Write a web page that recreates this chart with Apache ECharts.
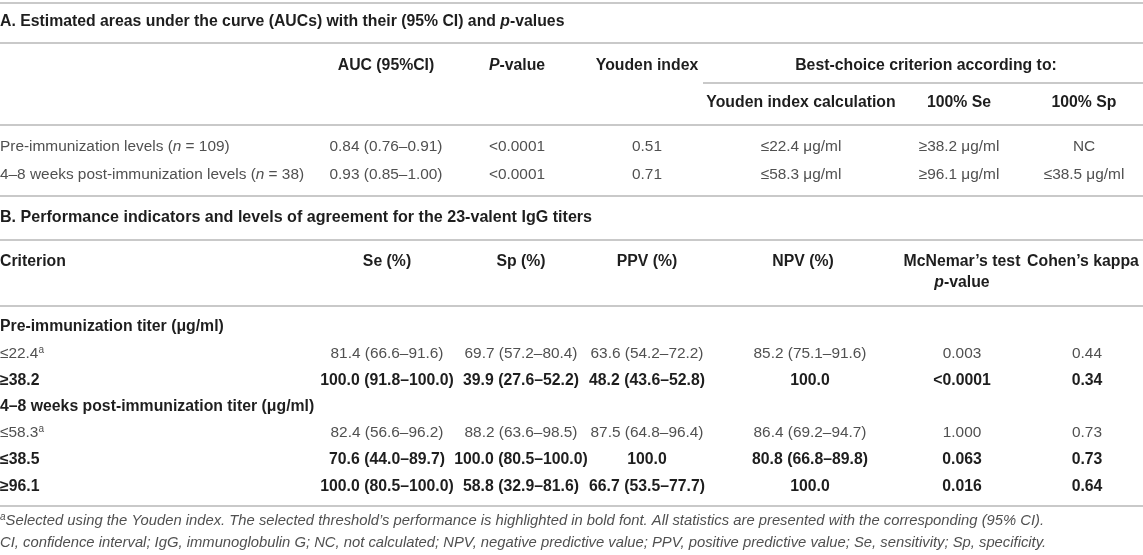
<!DOCTYPE html>
<html lang="en">
<head>
    <meta charset="UTF-8">
    <title>AUC table</title>
    <script src="https://cdn.jsdelivr.net/npm/echarts@6/dist/echarts.min.js"></script>
    <style>
        html, body { margin: 0; padding: 0; background: #fff; }
        .box { width: 1143px; height: 555px; }
    </style>
</head>
<body>
    <div class="box"></div>
</body>
<script>
 // A. AUC table
 let aTitle = 'A. Estimated areas under the curve (AUCs) with their (95% CI) and {bi|p}-values'
 let aHead = ['', 'AUC (95%CI)', '{bi|P}-value', 'Youden index']
 let aGroupHead = 'Best-choice criterion according to:'
 let aSubHead = ['Youden index calculation', '100% Se', '100% Sp']
 let aRows = ['Pre-immunization levels ({i|n} = 109)', '4–8 weeks post-immunization levels ({i|n} = 38)']
 let aAuc = ['0.84 (0.76–0.91)', '0.93 (0.85–1.00)']
 let aP = ['<0.0001', '<0.0001']
 let aYouden = ['0.51', '0.71']
 let aYoudenCrit = ['≤22.4 μg/ml', '≤58.3 μg/ml']
 let aSe100 = ['≥38.2 μg/ml', '≥96.1 μg/ml']
 let aSp100 = ['NC', '≤38.5 μg/ml']

 // B. performance table
 let bTitle = 'B. Performance indicators and levels of agreement for the 23-valent IgG titers'
 let bHead = ['Criterion', 'Se (%)', 'Sp (%)', 'PPV (%)', 'NPV (%)', 'McNemar’s test', 'Cohen’s kappa']
 let bGroups = ['Pre-immunization titer (μg/ml)', '4–8 weeks post-immunization titer (μg/ml)']
 let bCrit = ['≤22.4{s|a}', '≥38.2', '≤58.3{s|a}', '≤38.5', '≥96.1']
 let bSe = ['81.4 (66.6–91.6)', '100.0 (91.8–100.0)', '82.4 (56.6–96.2)', '70.6 (44.0–89.7)', '100.0 (80.5–100.0)']
 let bSp = ['69.7 (57.2–80.4)', '39.9 (27.6–52.2)', '88.2 (63.6–98.5)', '100.0 (80.5–100.0)', '58.8 (32.9–81.6)']
 let bPpv = ['63.6 (54.2–72.2)', '48.2 (43.6–52.8)', '87.5 (64.8–96.4)', '100.0', '66.7 (53.5–77.7)']
 let bNpv = ['85.2 (75.1–91.6)', '100.0', '86.4 (69.2–94.7)', '80.8 (66.8–89.8)', '100.0']
 let bMcNemar = ['0.003', '<0.0001', '1.000', '0.063', '0.016']
 let bKappa = ['0.44', '0.34', '0.73', '0.73', '0.64']
 let bBold = [false, true, false, true, true]

 let notes = [
    '{s|a}Selected using the Youden index. The selected threshold’s performance is highlighted in bold font. All statistics are presented with the corresponding (95% CI).',
    'CI, confidence interval; IgG, immunoglobulin G; NC, not calculated; NPV, negative predictive value; PPV, positive predictive value; Se, sensitivity; Sp, specificity.'
 ]

 // layout (pixel units on hidden value axes)
 let FS = 15.4   // regular
 let FSB = 15.8  // bold
 let colA = [0, 386, 517, 647]
 let colASub = [801, 959, 1084]
 let colB = [0, 387, 521, 647, 810, 962, 1087]
 let colBHead = [0, 387, 521, 647, 803, 962, 1083]
 let ruleY = [3, 43, 125, 196, 240, 306, 506]

 let cells = []
 function cell(x, y, text, opt) {
    cells.push(Object.assign({ value: [x, y], text: text, align: 'center', bold: false }, opt || {}))
 }
 cell(0, 22, aTitle, { align: 'left', bold: true })
 aHead.forEach((t, i) => { if (t) cell(colA[i], 66, t, { bold: true }) })
 cell(926, 66, aGroupHead, { bold: true })
 aSubHead.forEach((t, i) => cell(colASub[i], 103, t, { bold: true }))
 let aY = [147, 175]
 aRows.forEach((t, r) => {
    cell(0, aY[r], t, { align: 'left' })
    cell(colA[1], aY[r], aAuc[r])
    cell(colA[2], aY[r], aP[r])
    cell(colA[3], aY[r], aYouden[r])
    cell(colASub[0], aY[r], aYoudenCrit[r])
    cell(colASub[1], aY[r], aSe100[r])
    cell(colASub[2], aY[r], aSp100[r])
 })

 cell(0, 218, bTitle, { align: 'left', bold: true, big: true })
 bHead.forEach((t, i) => cell(colBHead[i], 262, t, { bold: true, align: i ? 'center' : 'left' }))
 cell(colBHead[5], 283, '{bi|p}-value', { bold: true })
 let groupY = [327, 407]
 bGroups.forEach((t, g) => cell(0, groupY[g], t, { align: 'left', bold: true }))
 let bY = [354, 381, 433, 460, 487]
 bCrit.forEach((t, r) => {
    let b = bBold[r]
    cell(0, bY[r], t, { align: 'left', bold: b })
    let vals = [bSe[r], bSp[r], bPpv[r], bNpv[r], bMcNemar[r], bKappa[r]]
    vals.forEach((v, k) => cell(colB[k + 1], bY[r], v, { bold: b }))
 })
 notes.forEach((t, k) => cell(0, 521 + k * 22, t, { align: 'left', note: true }))

 let font = '"Liberation Sans", Arial, sans-serif'
 function sizeOf(c) {
    if (c.note) return 14.8
    if (c.big) return 16.1
    return c.bold ? FSB : FS
 }
 function richFor(c) {
    let w = c.bold ? 'bold' : 'normal'
    let col = c.bold ? '#1e1e1e' : '#505050'
    let fs = sizeOf(c)
    return {
        i: { fontStyle: 'italic', fontWeight: w, fontSize: fs, fontFamily: font, fill: col, lineHeight: 18 },
        bi: { fontStyle: 'italic', fontWeight: 'bold', fontSize: fs, fontFamily: font, fill: col, lineHeight: 18 },
        s: { fontSize: 10, fontWeight: 'normal', fontStyle: c.note ? 'italic' : 'normal', fontFamily: font, fill: col, verticalAlign: 'top', lineHeight: 18 }
    }
 }

 let Echarts = echarts.init(document.querySelector('.box'))
 let option = {
    backgroundColor: '#ffffff',
    animation: false,
    grid: { left: 0, right: 0, top: 0, bottom: 0 },
    xAxis: { type: 'value', min: 0, max: 1143, show: false },
    yAxis: { type: 'value', min: 0, max: 555, inverse: true, show: false },
    series: [
        {
            // horizontal rules
            type: 'custom',
            silent: true,
            data: ruleY.map(y => [0, y, 1143]).concat([[703, 83, 1143]]),
            renderItem: function (params, api) {
                let p0 = api.coord([api.value(0), api.value(1)])
                let p1 = api.coord([api.value(2), api.value(1)])
                return {
                    type: 'line',
                    shape: { x1: p0[0], y1: p0[1], x2: p1[0], y2: p1[1] },
                    style: { stroke: '#c9c9c9', lineWidth: 2 }
                }
            }
        },
        {
            // table text
            type: 'custom',
            silent: true,
            data: cells,
            renderItem: function (params, api) {
                let c = cells[params.dataIndex]
                let p = api.coord([api.value(0), api.value(1)])
                return {
                    type: 'text',
                    x: p[0],
                    y: p[1],
                    style: {
                        text: c.text,
                        fill: c.bold ? '#1e1e1e' : '#505050',
                        fontSize: sizeOf(c),
                        fontFamily: font,
                        fontWeight: c.bold ? 'bold' : 'normal',
                        fontStyle: c.note ? 'italic' : 'normal',
                        align: c.align,
                        verticalAlign: 'middle',
                        lineHeight: 18,
                        rich: richFor(c)
                    }
                }
            }
        }
    ]
 }
 Echarts.setOption(option)
</script>
</html>
